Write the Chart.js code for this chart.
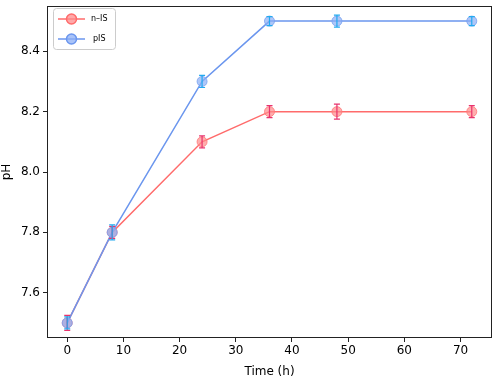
<!DOCTYPE html>
<html>
<head>
<meta charset="utf-8">
<script src="https://cdn.jsdelivr.net/npm/chart.js@4"></script>
<style>
  html, body { margin: 0; padding: 0; background: #fff; }
  #wrap { width: 498px; height: 379px; }
</style>
</head>
<body>
<div id="wrap"><canvas id="phChart" width="498" height="379"></canvas></div>
<script>
// data
const times = [0, 8, 24, 36, 48, 72];
const nIS = [7.5, 7.8, 8.1, 8.2, 8.2, 8.2];
const nISErr = [0.025, 0.02, 0.02, 0.02, 0.025, 0.02];
const pIS = [7.5, 7.8, 8.3, 8.5, 8.5, 8.5];
const pISErr = [0.02, 0.025, 0.02, 0.015, 0.02, 0.015];
const xTicks = [0, 10, 20, 30, 40, 50, 60, 70];
const yTicks = [7.6, 7.8, 8.0, 8.2, 8.4];

const FONT = "'DejaVu Sans', sans-serif";

// no extra padding from tick labels, chart area is fixed by hand
function noPad(s) {
  s.paddingTop = 0; s.paddingBottom = 0;
  s.paddingLeft = 0; s.paddingRight = 0;
}

// error bars + frame + legend drawn on top
const extras = {
  id: 'extras',
  afterDatasetsDraw(chart) {
    const ctx = chart.ctx;
    const xs = chart.scales.x, ys = chart.scales.y;
    const sets = [
      { vals: nIS, err: nISErr, color: '#e8336e' },
      { vals: pIS, err: pISErr, color: '#22aaf0' }
    ];
    ctx.save();
    ctx.lineWidth = 1.2;
    sets.forEach(s => {
      ctx.strokeStyle = s.color;
      times.forEach((t, i) => {
        const x = xs.getPixelForValue(t);
        const y1 = ys.getPixelForValue(s.vals[i] - s.err[i]);
        const y2 = ys.getPixelForValue(s.vals[i] + s.err[i]);
        ctx.beginPath();
        ctx.moveTo(x, y1); ctx.lineTo(x, y2);
        ctx.moveTo(x - 3, y1); ctx.lineTo(x + 3, y1);
        ctx.moveTo(x - 3, y2); ctx.lineTo(x + 3, y2);
        ctx.stroke();
      });
    });

    // axes frame
    const a = chart.chartArea;
    ctx.strokeStyle = '#222';
    ctx.lineWidth = 1;
    ctx.strokeRect(a.left + 0.5, a.top + 0.5, a.right - a.left - 1, a.bottom - a.top - 1);

    // legend box
    const lx = 53, ly = 8, lw = 62, lh = 41;
    ctx.fillStyle = 'rgba(255,255,255,0.85)';
    ctx.strokeStyle = '#ccc';
    ctx.beginPath();
    ctx.roundRect(lx + 0.5, ly + 0.5, lw, lh, 3);
    ctx.fill();
    ctx.stroke();
    const items = [
      { label: 'n\u2013IS', line: '#ff6b6b', fill: 'rgba(255,140,140,0.75)', y: 19, tx: 91 },
      { label: 'pIS', line: '#6b96ee', fill: 'rgba(140,175,245,0.75)', y: 39, tx: 93 }
    ];
    ctx.font = '8px ' + FONT;
    ctx.textBaseline = 'middle';
    items.forEach(it => {
      ctx.strokeStyle = it.line;
      ctx.lineWidth = 1.5;
      ctx.beginPath();
      ctx.moveTo(58, it.y); ctx.lineTo(85, it.y);
      ctx.stroke();
      ctx.fillStyle = it.fill;
      ctx.beginPath();
      ctx.arc(71.5, it.y, 5, 0, Math.PI * 2);
      ctx.fill();
      ctx.stroke();
      ctx.fillStyle = '#000';
      ctx.fillText(it.label, it.tx, it.y);
    });
    ctx.restore();
  }
};

new Chart(document.getElementById('phChart').getContext('2d'), {
  type: 'line',
  data: {
    datasets: [
      {
        label: 'n-IS',
        data: times.map((t, i) => ({ x: t, y: nIS[i] })),
        borderColor: '#ff6b6b',
        backgroundColor: 'rgba(255,140,140,0.7)',
        pointBorderColor: 'rgba(255,120,120,0.8)',
        borderWidth: 1.5,
        pointRadius: 5,
        pointBorderWidth: 1,
        order: 1
      },
      {
        label: 'pIS',
        data: times.map((t, i) => ({ x: t, y: pIS[i] })),
        borderColor: '#6b96ee',
        backgroundColor: 'rgba(140,175,245,0.7)',
        pointBorderColor: 'rgba(120,160,240,0.8)',
        borderWidth: 1.5,
        pointRadius: 5,
        pointBorderWidth: 1,
        order: 0
      }
    ]
  },
  options: {
    responsive: false,
    animation: false,
    events: [],
    layout: { padding: { top: 1, right: 5, left: 0, bottom: 0 } },
    plugins: {
      legend: { display: false },
      tooltip: { enabled: false }
    },
    scales: {
      x: {
        type: 'linear',
        min: -3.6,
        max: 75.6,
        afterBuildTicks: s => { s.ticks = xTicks.map(v => ({ value: v })); },
        afterFit: s => { s.height = 41; noPad(s); },
        grid: { drawOnChartArea: false, tickLength: 4, tickColor: '#222', drawTicks: true },
        border: { display: false },
        ticks: { color: '#000', font: { family: FONT, size: 12 }, padding: 2, maxRotation: 0,
                 callback: v => String(v) },
        title: { display: true, text: 'Time (h)', color: '#000', font: { family: FONT, size: 12 }, padding: { top: 1, bottom: 0 } }
      },
      y: {
        min: 7.45,
        max: 8.55,
        afterBuildTicks: s => { s.ticks = yTicks.map(v => ({ value: v })); },
        afterFit: s => { s.width = 47; noPad(s); },
        grid: { drawOnChartArea: false, tickLength: 4, tickColor: '#222' },
        border: { display: false },
        ticks: { color: '#000', font: { family: FONT, size: 12 }, padding: 3,
                 callback: v => Number(v).toFixed(1) },
        title: { display: true, text: 'pH', color: '#000', font: { family: FONT, size: 12 }, padding: { top: 0, bottom: 1 } }
      }
    }
  },
  plugins: [extras]
});
</script>
</body>
</html>
